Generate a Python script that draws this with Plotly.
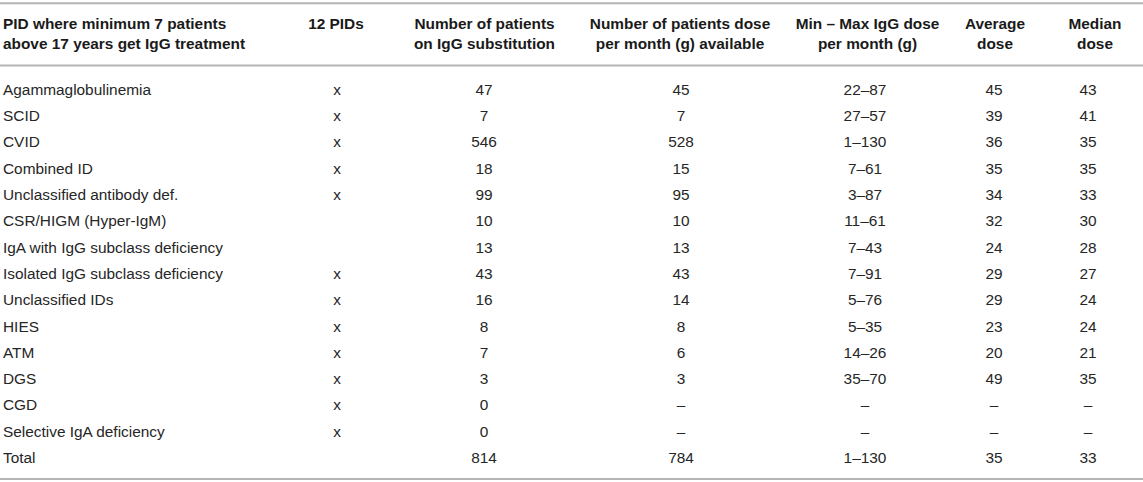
import plotly.graph_objects as go

# ---- data ----
pid_names = ["Agammaglobulinemia", "SCID", "CVID", "Combined ID", "Unclassified antibody def.",
             "CSR/HIGM (Hyper-IgM)", "IgA with IgG subclass deficiency", "Isolated IgG subclass deficiency",
             "Unclassified IDs", "HIES", "ATM", "DGS", "CGD", "Selective IgA deficiency", "Total"]
twelve_pids = ["x", "x", "x", "x", "x", "", "", "x", "x", "x", "x", "x", "x", "x", ""]
n_on_igg = ["47", "7", "546", "18", "99", "10", "13", "43", "16", "8", "7", "3", "0", "0", "814"]
n_dose_avail = ["45", "7", "528", "15", "95", "10", "13", "43", "14", "8", "6", "3", "–", "–", "784"]
min_max = ["22–87", "27–57", "1–130", "7–61", "3–87", "11–61", "7–43", "7–91", "5–76", "5–35",
           "14–26", "35–70", "–", "–", "1–130"]
avg_dose = ["45", "39", "36", "35", "34", "32", "24", "29", "29", "23", "20", "49", "–", "–", "35"]
median_dose = ["43", "41", "35", "35", "33", "30", "28", "27", "24", "24", "21", "35", "–", "–", "33"]

headers = ["PID where minimum 7 patients<br>above 17 years get IgG treatment",
           "12 PIDs",
           "Number of patients<br>on IgG substitution",
           "Number of patients dose<br>per month (g) available",
           "Min – Max IgG dose<br>per month (g)",
           "Average<br>dose",
           "Median<br>dose"]

columns = [pid_names, twelve_pids, n_on_igg, n_dose_avail, min_max, avg_dose, median_dose]

# ---- layout constants (pixels) ----
W, H = 1143, 482
col_x_data = [3, 337, 484, 681, 865, 994, 1088]
col_x_head = [3, 336, 484.5, 680, 867.5, 995, 1095]
row0_px, row_step = 91.0, 26.3
header2_px = 35.0   # centre of two-line headers
header1_px = 25.0   # single-line header sits on first line
FONT = "Liberation Sans, Arial, Helvetica, sans-serif"
FS = 15.4

rows = list(range(len(pid_names)))
y_top = -row0_px / row_step
y_bot = (H - row0_px) / row_step


def px_to_y(p):
    return (p - row0_px) / row_step


fig = go.Figure()
for ci, col in enumerate(columns):
    pos = "middle right" if ci == 0 else "middle center"
    fig.add_trace(go.Scatter(
        x=[col_x_data[ci]] * len(col), y=rows, text=col, mode="text",
        textposition=pos, textfont=dict(family=FONT, size=FS, color="#262626"),
        hoverinfo="skip", showlegend=False))
    hy = px_to_y(header2_px if "<br>" in headers[ci] else header1_px)
    fig.add_trace(go.Scatter(
        x=[col_x_head[ci]], y=[hy], text=["<b>" + headers[ci] + "</b>"], mode="text",
        textposition=pos, textfont=dict(family=FONT, size=FS, color="#1a1a1a"),
        hoverinfo="skip", showlegend=False))

line_style = dict(color="#b4b4b4", width=2)
for py in [3.3, 65.5, 479.0]:
    fig.add_shape(type="line", xref="paper", yref="paper", x0=0, x1=1,
                  y0=1 - py / H, y1=1 - py / H, line=line_style)

fig.update_layout(
    width=W, height=H, margin=dict(l=0, r=0, t=0, b=0),
    paper_bgcolor="white", plot_bgcolor="white",
    xaxis=dict(range=[0, W], visible=False, fixedrange=True),
    yaxis=dict(range=[y_bot, y_top], visible=False, fixedrange=True),
)
fig.write_html("out.html", config={"displayModeBar": False},
               post_script="document.body.style.margin='0';document.body.style.overflow='hidden';")
